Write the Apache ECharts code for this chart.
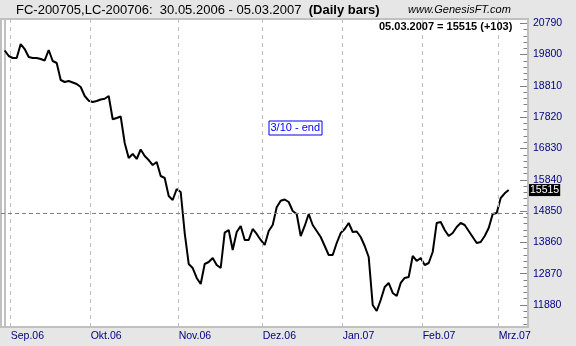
<!DOCTYPE html>
<html>
<head>
<meta charset="utf-8">
<script src="https://cdn.jsdelivr.net/npm/echarts@6/dist/echarts.min.js"></script>
<style>
html,body{margin:0;padding:0;background:#E6E6E6;}
#chart{width:576px;height:346px;}
</style>
</head>
<body>
<div id="chart"></div>
<script>
// Daily closes, 30.08.2006 .. 05.03.2007 (index 0 = first visible bar)
const values = [
19930,19756,19693,19693,20135,19977,19724,19693,19693,19661,
19614,19946,19598,19534,18997,18933,18965,18918,18870,18775,
18491,18342,18301,18333,18380,18405,18491,17754,17795,17842,
17004,16530,16656,16498,16798,16593,16466,16308,16403,15960,
15897,15328,15201,15549,15454,14157,13177,13050,12734,12544,
13177,13240,13367,13145,13050,14167,14252,13620,14189,14379,
13936,13936,14284,14126,13936,13778,14221,14410,14970,15179,
15217,15138,14853,14758,14062,14379,14758,14410,14221,14031,
13746,13462,13462,13841,14157,14284,14474,14189,14205,14031,
13746,13398,11880,11690,12038,12449,12576,12260,12165,12576,
12734,12766,13430,13272,13367,13145,13208,13556,14474,14505,
14252,14062,14157,14347,14474,14410,14221,14031,13841,13873,
14062,14316,14758,14790,15264,15412,15515
];
const monthLabels = ['Sep.06','Okt.06','Nov.06','Dez.06','Jan.07','Feb.07','Mrz.07'];
const monthStart = [2,22,44,65,85,105,124];
const yTicks = [11880,12870,13860,14850,15840,16830,17820,18810,19800,20790];
const refLevel = 14780;
const lastDate = '05.03.2007';
const titleMain = 'FC-200705,LC-200706:  30.05.2006 - 05.03.2007  ';
const titleBars = '(Daily bars)';
const siteText = 'www.GenesisFT.com';
const noteText = '3/10 - end';

const xMin = -0.925, xMax = 130.825;
const yMin = 11184, yMax = 20926;
const last = values[values.length - 1];
const diff = last - values[values.length - 2];
const gridVals = monthStart.map(v => v - 0.5);
const step = yTicks[1] - yTicks[0];
const tickLines = [];
const tickStyle = {color: '#808080', width: 1, type: 'solid'};
for (let t = yTicks[0] - step; t <= yTicks[yTicks.length - 1] + step; t += step / 5) {
  const r = Math.round(t);
  if (r < yMin || r > yMax) continue;
  const major = yTicks.indexOf(r) >= 0;
  const x0 = xMax - 0.25 - (major ? 1.75 : 0.875);
  tickLines.push([
    {xAxis: x0, yAxis: r, lineStyle: tickStyle, label: {show: false}},
    {xAxis: xMax - 0.25, yAxis: r}
  ]);
}

const font = 'Liberation Sans, Arial, sans-serif';
const chart = echarts.init(document.getElementById('chart'), null, {renderer: 'canvas'});
chart.setOption({
  animation: false,
  backgroundColor: '#E6E6E6',
  title: [
    {
      text: '{a|' + titleMain + '}{b|' + titleBars + '}',
      left: 16, top: 4, padding: 0,
      textStyle: {rich: {
        a: {fontSize: 13, fontFamily: font, color: '#000', fontWeight: 'normal'},
        b: {fontSize: 13, fontFamily: font, color: '#000', fontWeight: 'bold'}
      }}
    },
    {
      text: siteText, left: 408, top: 4, padding: 0,
      textStyle: {fontSize: 11, fontFamily: font, fontStyle: 'italic', fontWeight: 'normal', color: '#000'}
    },
    {
      text: lastDate + ' = ' + last + ' (+' + diff + ')', left: 379, top: 21, padding: 0,
      textStyle: {fontSize: 11, fontFamily: font, fontWeight: 'bold', color: '#000'}
    },
    {
      text: noteText, left: 268.5, top: 120.5, padding: [1, 2, 1, 2],
      borderColor: '#0000FF', borderWidth: 1, backgroundColor: '#fff',
      textStyle: {fontSize: 11, fontFamily: font, fontWeight: 'normal', color: '#0000FF', lineHeight: 13}
    }
  ],
  grid: {
    left: 1, top: 19, right: 48, bottom: 19,
    show: true, backgroundColor: '#fff', borderColor: '#C0C0C0', borderWidth: 2
  },
  xAxis: {
    type: 'value', min: xMin, max: xMax,
    axisLine: {show: false}, axisTick: {show: false}, splitLine: {show: false},
    axisLabel: {
      customValues: gridVals, align: 'left', margin: 4,
      color: '#000080', fontSize: 10.5, fontFamily: font,
      formatter: v => monthLabels[gridVals.indexOf(v)] || ''
    }
  },
  yAxis: {
    type: 'value', position: 'right', min: yMin, max: yMax,
    axisLine: {show: true, lineStyle: {color: '#C0C0C0', width: 2}}, splitLine: {show: false},
    axisTick: {show: false},
    axisLabel: {customValues: yTicks, margin: 5, color: '#000080', fontSize: 10.5, fontFamily: font,
      formatter: v => String(v)}
  },
  series: [
    {
      type: 'line', data: [], z: 1, silent: true,
      markLine: {
        symbol: 'none', silent: true, animation: false,
        label: {show: false},
        data: gridVals.map(v => ({xAxis: v, lineStyle: {color: '#C0C0C0', width: 1, type: [4, 4]}}))
          .concat([{yAxis: refLevel, lineStyle: {color: '#808080', width: 1, type: [4, 3]}}])
      }
    },
    {
      type: 'line', z: 3,
      data: values.map((v, i) => [i, v]),
      showSymbol: false, symbol: 'none',
      lineStyle: {color: '#000', width: 2},
      markLine: {
        symbol: 'none', silent: true, animation: false,
        label: {show: false},
        data: [{
          yAxis: last,
          lineStyle: {color: 'transparent', width: 0},
          label: {
            show: true, position: 'end', distance: 1,
            formatter: String(last),
            color: '#fff', backgroundColor: '#000', padding: [1, 1, 0, 1],
            fontSize: 10.5, fontFamily: font
          }
        }].concat(tickLines)
      }
    }
  ]
});
</script>
</body>
</html>
